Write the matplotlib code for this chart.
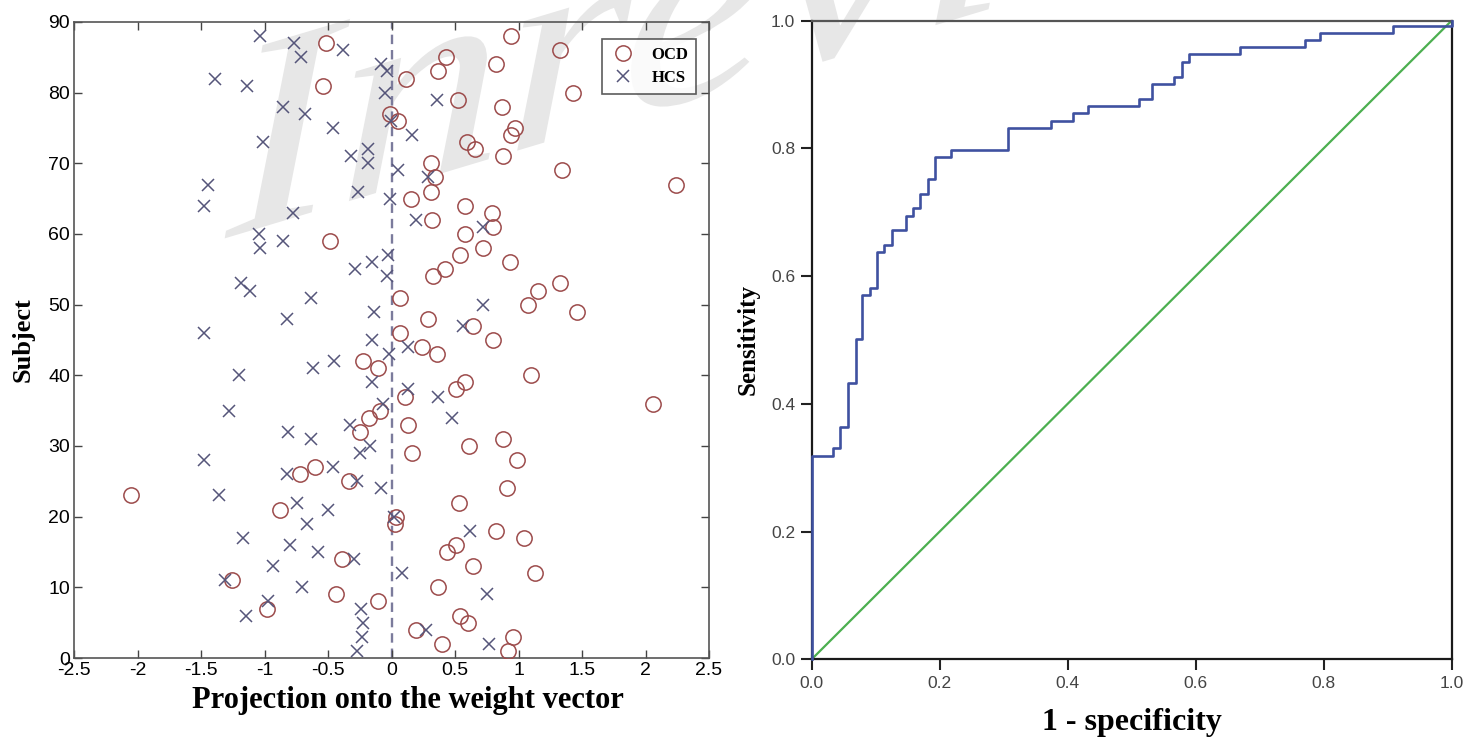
import numpy as np
import matplotlib
matplotlib.use("Agg")
import matplotlib.pyplot as plt
from matplotlib import patheffects
from matplotlib.transforms import Affine2D

SERIF = "Liberation Serif"
SANS = "Liberation Sans"

# left panel: projection of each subject onto the weight vector
subjects = list(range(1, 89))
ocd_proj = [
    0.913, 0.394, 0.953, 0.19, 0.598, 0.538, -0.984, -0.105, -0.441, 0.367,
    -1.26, 1.128, 0.643, -0.39, 0.433, 0.506, 1.042, 0.821, 0.03, 0.037,
    -0.88, 0.532, -2.055, 0.906, -0.334, -0.722, -0.604, 0.984, 0.157, 0.611,
    0.879, -0.25, 0.126, -0.176, -0.09, 2.06, 0.105, 0.506, 0.577, 1.097,
    -0.105, -0.228, 0.354, 0.241, 0.797, 0.068, 0.638, 0.288, 1.464, 1.076,
    0.065, 1.154, 1.325, 0.328, 0.42, 0.931, 0.538, 0.72, -0.486, 0.577,
    0.8, 0.315, 0.792, 0.577, 0.152, 0.307, 2.244, 0.341, 1.346, 0.307,
    0.874, 0.656, 0.595, 0.939, 0.971, 0.052, -0.013, 0.866, 0.525, 1.43,
    -0.54, 0.113, 0.367, 0.82, 0.425, 1.325, -0.52, 0.939,
]
hcs_proj = [
    -0.27, 0.769, -0.233, 0.27, -0.223, -1.15, -0.243, -0.972, 0.748, -0.704,
    -1.31, 0.079, -0.932, -0.3, -0.578, -0.8, -1.168, 0.62, -0.664, 0.02,
    -0.499, -0.743, -1.357, -0.08, -0.27, -0.827, -0.46, -1.48, -0.25, -0.17,
    -0.638, -0.819, -0.33, 0.472, -1.281, -0.07, 0.362, 0.128, -0.155, -1.2,
    -0.617, -0.454, -0.019, 0.131, -0.158, -1.48, 0.564, -0.827, -0.14, 0.72,
    -0.635, -1.116, -1.187, -0.035, -0.289, -0.157, -0.026, -1.04, -0.853, -1.045,
    0.72, 0.19, -0.78, -1.478, -0.01, -0.263, -1.45, 0.288, 0.052, -0.184,
    -0.32, -0.184, -1.016, 0.16, -0.465, -0.005, -0.683, -0.853, 0.354, -0.053,
    -1.14, -1.39, -0.04, -0.084, -0.717, -0.386, -0.767, -1.037,
]
proj_ticks = [-2.5, -2, -1.5, -1, -0.5, 0, 0.5, 1, 1.5, 2, 2.5]
proj_tick_labels = ["-2.5", "-2", "-1.5", "-1", "-0.5", "0", "0.5", "1", "1.5", "2", "2.5"]
subject_ticks = [0, 10, 20, 30, 40, 50, 60, 70, 80, 90]

# right panel: ROC curve corners (1 - specificity, sensitivity)
roc_fpr = [
    0.0, 0.0, 0.034, 0.045, 0.057, 0.069, 0.079, 0.091, 0.102, 0.113,
    0.125, 0.148, 0.159, 0.170, 0.182, 0.193, 0.217, 0.306, 0.374, 0.409,
    0.431, 0.511, 0.532, 0.566, 0.578, 0.590, 0.669, 0.771, 0.794, 0.908, 1.0,
]
roc_tpr = [
    0.0, 0.319, 0.331, 0.364, 0.433, 0.502, 0.570, 0.582, 0.638, 0.649,
    0.672, 0.694, 0.706, 0.729, 0.752, 0.787, 0.798, 0.832, 0.843, 0.855,
    0.866, 0.878, 0.901, 0.912, 0.935, 0.947, 0.959, 0.969, 0.981, 0.992, 1.0,
]
roc_ticks = [0.0, 0.2, 0.4, 0.6, 0.8, 1.0]
roc_tick_labels = ["0.0", "0.2", "0.4", "0.6", "0.8", "1.0"]


class Warp(patheffects.AbstractPathEffect):
    """Horizontal stretch plus vertical shear around a pixel origin."""

    def __init__(self, origin, sx, slope):
        super().__init__()
        self.origin = origin
        self.sx = sx
        self.slope = slope

    def draw_path(self, renderer, gc, tpath, affine, rgbFace=None):
        ox, oy = self.origin
        warp = Affine2D([[self.sx, 0, 0], [self.slope * self.sx, 1, 0], [0, 0, 1]])
        t = (affine + Affine2D().translate(-ox, -oy) + warp
             + Affine2D().translate(ox, oy))
        renderer.draw_path(gc, tpath, t, rgbFace)


W, H = 1482, 740
fig = plt.figure(figsize=(W / 100, H / 100), dpi=100)

# faint watermark behind both panels, stretched and sheared like the original
wm_x, wm_y, wm_size = 226, 238, 200
wm = dict(fontsize=wm_size, family=SERIF, style="italic", color="#e7e7e7",
          ha="left", va="baseline", zorder=-5,
          path_effects=[Warp((wm_x, H - wm_y), 1.2, 0.3)])
fig.text(wm_x / W, 1 - wm_y / H, "In", **wm)
fig.text((wm_x + 0.833 * wm_size * 100 / 72) / W, 1 - wm_y / H, "review", **wm)

# --- left: scatter of projections ---
ax1 = fig.add_axes([0.0501, 0.1108, 0.4283, 0.8595])
ax1.set_facecolor("none")
ax1.axvline(0, color="#7b7b9c", ls=(0, (4, 2.5)), lw=1.7, zorder=1)
ax1.plot(ocd_proj, subjects, ls="none", marker="o", ms=11, mfc="none",
         mec="#9c4b4b", mew=1.1, label="OCD", zorder=3)
ax1.plot(hcs_proj, subjects, ls="none", marker="x", ms=8, mec="#55557a",
         mew=1.1, label="HCS", zorder=3)
ax1.set_xlim(-2.5, 2.5)
ax1.set_ylim(0, 90)
ax1.set_xticks(proj_ticks)
ax1.set_xticklabels(proj_tick_labels)
ax1.set_yticks(subject_ticks)
ax1.tick_params(direction="in", top=True, right=True, length=6, width=1,
                color="#444444", labelsize=14, pad=3)
for lab in ax1.get_xticklabels() + ax1.get_yticklabels():
    lab.set_family(SANS)
for s in ax1.spines.values():
    s.set_color("#555555")
    s.set_linewidth(1.2)
ax1.set_xlabel("Projection onto the weight vector", family=SERIF,
               fontweight="bold", fontsize=22)
ax1.xaxis.set_label_coords(0.526, -0.044, transform=ax1.transAxes)
ax1.xaxis.label.set_va("top")
ax1.set_ylabel("Subject", family=SERIF, fontweight="bold", fontsize=19)
ax1.yaxis.set_label_coords(-0.063, 0.5, transform=ax1.transAxes)
leg = ax1.legend(loc="upper right", bbox_to_anchor=(0.9795, 0.973),
                 borderaxespad=0, fancybox=False, edgecolor="#333333",
                 prop={"family": SERIF, "weight": "bold", "size": 12},
                 handlelength=1.6, handletextpad=0.9, borderpad=0.45,
                 labelspacing=0.45)
leg.get_frame().set_linewidth(1.2)

# --- right: ROC curve ---
ax2 = fig.add_axes([0.5477, 0.1091, 0.4318, 0.8630])
ax2.set_facecolor("none")
ax2.plot([0, 1], [0, 1], color="#4caf50", lw=1.6, zorder=2)
ax2.step(roc_fpr, roc_tpr, where="post", color="#3f51a0", lw=1.9,
         zorder=3, clip_on=False)
ax2.set_xlim(0, 1)
ax2.set_ylim(0, 1)
ax2.set_xticks(roc_ticks)
ax2.set_xticklabels(roc_tick_labels)
ax2.set_yticks(roc_ticks)
ax2.set_yticklabels(roc_tick_labels)
ax2.tick_params(direction="out", length=8, width=1.5, color="#222222",
                labelsize=12.5, labelcolor="#444444", pad=4)
for lab in ax2.get_xticklabels() + ax2.get_yticklabels():
    lab.set_family(SANS)
for name, s in ax2.spines.items():
    s.set_linewidth(1.6)
    s.set_color("#555555" if name == "top" else "#1a1a1a")
ax2.set_xlabel("1 - specificity", family=SERIF, fontweight="bold",
               fontsize=23, labelpad=12)
ax2.set_ylabel("Sensitivity", family=SERIF, fontweight="bold", fontsize=18,
               labelpad=8)

fig.savefig("out.png", dpi=100)
plt.close(fig)
